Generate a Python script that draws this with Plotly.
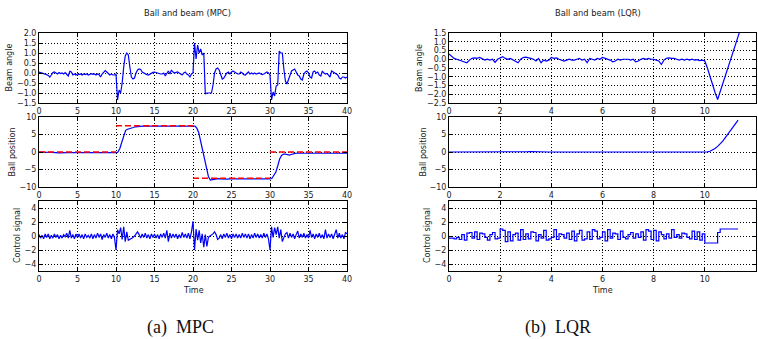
import numpy as np
import plotly.graph_objects as go

# ---------------- data: MPC (left) ----------------
mpc_angle_dt = 0.2
mpc_angle = [
    0.05, 0.03, 0.0, -0.03, -0.05,
    -0.08, -0.12, -0.2, -0.1, 0.02,
    0.05, 0.0, -0.05, 0.02, -0.03,
    0.0, -0.05, 0.02, -0.08, -0.15,
    0.08, 0.05, -0.1, -0.05, -0.1,
    -0.05, -0.08, -0.05, -0.1, -0.05,
    -0.08, -0.05, -0.1, -0.06, -0.03,
    -0.07, -0.05, -0.1, -0.05, -0.08,
    -0.2, -0.05, 0.05, 0.12, 0.05,
    -0.05, -0.1, -0.05, -0.1, -0.1,
    -0.05, -1.35, -0.85, -1.0, -0.5,
    0.3, 0.85, 1.0, 0.9, 0.3,
    -0.2, -0.3, -0.25, 0.0, 0.15,
    0.2, 0.18, 0.05, 0.0, -0.05,
    -0.08, -0.1, -0.05, 0.0, 0.03,
    0.05, 0.02, 0.0, -0.02, -0.05,
    -0.05, 0.0, -0.15, -0.05, 0.1,
    -0.05, 0.15, 0.05, 0.0, 0.03,
    0.05, 0.0, -0.05, -0.1, 0.0,
    0.05, -0.05, -0.1, -0.2, -0.05,
    0.0, 1.5, 0.7, 1.4, 1.0,
    1.2, 0.9, 1.0, -1.05, -1.0,
    -1.0, -1.0, -1.0, -0.6, 0.0,
    0.2, 0.25, 0.15, -0.1, -0.3,
    -0.25, -0.1, 0.0, 0.05, -0.05,
    0.05, 0.1, 0.05, -0.02, -0.05,
    -0.05, 0.05, 0.0, -0.08, -0.1,
    0.0, 0.05, -0.05, 0.0, -0.05,
    0.0, -0.05, -0.02, 0.0, -0.05,
    -0.08, -0.05, 0.02, 0.05, 0.0,
    -0.1, -1.35, -0.95, -1.15, -0.65,
    -0.6, 1.1, 1.0, 1.0, 0.2,
    -0.4, -0.55, -0.3, -0.1, 0.1,
    0.15, 0.2, 0.05, -0.1, -0.15,
    -0.3, -0.35, -0.05, 0.05, 0.1,
    0.0, -0.2, -0.25, 0.05, 0.1,
    0.0, 0.05, -0.1, -0.15, 0.1,
    0.0, -0.05, -0.02, -0.1, -0.2,
    0.1, 0.05, 0.0, -0.05, -0.1,
    -0.25, -0.3, -0.2, -0.2, -0.25,
    -0.2,
]

mpc_pos_dt = 0.25
mpc_pos = [
    0.0, 0.0, -0.05, -0.1,
    -0.1, -0.15, -0.2, -0.2,
    -0.2, -0.2, -0.25, -0.2,
    -0.2, -0.15, -0.2, -0.2,
    -0.2, -0.2, -0.25, -0.25,
    -0.2, -0.2, -0.2, -0.15,
    -0.2, -0.2, -0.2, -0.2,
    -0.15, -0.2, -0.2, -0.25,
    -0.25, -0.2, -0.2, -0.15,
    -0.2, -0.25, -0.25, -0.2,
    -0.2, 0.0, 1.0, 2.8,
    4.8, 6.2, 6.5, 6.6,
    6.7, 7.0, 7.2, 7.3,
    7.35, 7.35, 7.4, 7.4,
    7.4, 7.35, 7.4, 7.4,
    7.35, 7.4, 7.4, 7.35,
    7.4, 7.4, 7.35, 7.4,
    7.4, 7.35, 7.4, 7.4,
    7.35, 7.4, 7.4, 7.4,
    7.35, 7.4, 7.45, 7.45,
    7.45, 7.4, 6.8, 5.5,
    3.0, 0.5, -2.2, -4.8,
    -7.0, -8.0, -7.9, -7.6,
    -7.5, -7.6, -7.7, -7.75,
    -7.8, -7.8, -7.75, -7.7,
    -7.7, -7.75, -7.7, -7.7,
    -7.75, -7.7, -7.7, -7.75,
    -7.7, -7.7, -7.75, -7.7,
    -7.7, -7.75, -7.7, -7.7,
    -7.7, -7.7, -7.75, -7.7,
    -7.7, -7.5, -6.8, -5.8,
    -4.0, -2.0, -1.0, -0.6,
    -0.6, -0.8, -0.9, -0.7,
    -0.5, -0.4, -0.35, -0.35,
    -0.3, -0.35, -0.3, -0.3,
    -0.35, -0.3, -0.3, -0.25,
    -0.3, -0.3, -0.35, -0.3,
    -0.3, -0.25, -0.3, -0.3,
    -0.35, -0.3, -0.3, -0.25,
    -0.3, -0.35, -0.3, -0.3,
    -0.35,
]

ref_edges = [0, 10, 20, 30, 40]
ref_levels = [0, 7.5, -7.5, 0]

mpc_u_dt = 0.2
mpc_u = [
    0.2, -0.3, 0.1, -0.4, 0.3,
    -0.2, 0.3, -0.4, 0.1, -0.3,
    0.3, -0.2, 0.2, -0.4, 0.1,
    -0.3, 0.2, -0.1, 0.4, -0.3,
    0.8, -0.3, 0.2, -0.4, 0.3,
    -0.2, 0.3, -0.3, 0.2, -0.4,
    0.3, -0.2, 0.1, -0.3, 0.3,
    -0.4, 0.2, -0.3, 0.4, -0.2,
    0.3, -0.5, 0.2, -0.2, 0.4,
    -0.3, 0.2, -0.4, 0.3, -0.2,
    -2.0, 0.9, 0.3, 1.2, -0.5,
    1.3, -0.8, 0.6, -0.6, -0.5,
    -0.3, -0.2, 0.0, 0.3, 0.6,
    0.2, -0.3, 0.3, -0.2, 0.4,
    -0.3, 0.2, -0.4, 0.3, -0.2,
    0.3, -0.3, 0.2, -0.4, 0.3,
    -0.2, 0.4, -0.3, 0.8, -0.8,
    0.4, -0.3, 0.3, -0.2, 0.3,
    -0.4, 0.2, -0.3, 0.5, -0.2,
    0.3, -0.3, 0.4, -0.4, 0.6,
    2.1, -2.0, 1.0, -0.6, 0.8,
    -1.0, 0.3, -1.6, 0.2, -1.5,
    -0.2, 0.0, 0.1, 0.3, 0.6,
    0.2, -0.5, -0.3, 0.2, -0.4,
    0.3, -0.2, 0.4, -0.3, 0.2,
    -0.4, 0.3, -0.2, 0.3, -0.3,
    0.2, -0.3, 0.4, -0.2, 0.3,
    -0.3, 0.3, -0.4, 0.2, -0.3,
    0.4, -0.2, 0.3, -0.3, 0.2,
    -0.3, 0.4, -0.2, 0.3, -0.4,
    -2.0, 1.3, -0.2, 1.2, 0.2,
    1.3, -0.3, 0.9, -0.8, -0.2,
    0.3, 0.5, -0.3, 0.4, -0.2,
    0.3, -0.4, 0.2, 0.7, -0.3,
    0.3, -0.2, 0.4, -0.3, 0.2,
    -0.3, 0.8, -0.2, 0.3, -0.4,
    0.3, -0.2, 0.4, -0.3, 0.2,
    -0.4, 0.9, -0.3, 0.3, -0.2,
    0.3, -0.4, 0.2, 0.9, -0.3,
    0.4, -0.3, 0.2, -0.4, 0.5,
    0.3,
]

# ---------------- data: LQR (right) ----------------
lqr_dt = 0.1
lqr_angle = [
    0.3, 0.15, 0.05, 0.0, -0.05, -0.1, -0.15, -0.2, -0.05, 0.05,
    0.08, 0.05, 0.1, 0.0, -0.05, 0.0, -0.05, 0.0, -0.18, 0.0,
    0.1, 0.15, 0.05, 0.0, 0.05, -0.05, -0.15, -0.2, 0.0, 0.1,
    0.12, 0.1, 0.05, 0.0, -0.1, 0.05, -0.2, -0.05, -0.1, -0.05,
    0.1, 0.05, 0.08, 0.0, -0.05, -0.1, -0.05, 0.0, -0.05, -0.05,
    0.0, 0.05, -0.05, 0.0, -0.2, 0.05, 0.0, -0.05, 0.05, 0.0,
    0.1, 0.05, 0.0, -0.05, -0.15, -0.1, 0.0, -0.05, 0.0, 0.02,
    0.0, -0.05, 0.0, -0.15, -0.1, 0.0, 0.05, 0.0, 0.05, 0.0,
    0.0, -0.05, -0.1, -0.3, -0.05, 0.05, 0.08, 0.05, 0.05, 0.0,
    -0.05, 0.0, -0.05, 0.0, -0.05, 0.0, -0.05, -0.02, -0.08, -0.05,
    -0.1, -0.5, -1.0, -1.45, -1.9, -2.3, -1.85, -1.4, -0.95, -0.5,
    -0.05, 0.4, 0.85, 1.3, 1.75,
]

lqr_pos = [
    0.0, 0.0, -0.05, -0.05, -0.1, -0.1, -0.1, -0.1, -0.05, -0.05,
    0.0, 0.0, 0.0, 0.05, 0.0, 0.0, -0.05, 0.0, 0.0, 0.05,
    0.0, 0.0, 0.0, -0.05, -0.05, -0.1, -0.05, 0.0, 0.0, 0.05,
    0.1, 0.1, 0.15, 0.1, 0.1, 0.05, 0.0, 0.0, -0.05, 0.0,
    0.0, 0.05, 0.05, 0.0, 0.0, 0.0, -0.05, -0.05, 0.0, 0.0,
    0.0, 0.0, 0.0, -0.05, -0.05, 0.0, 0.0, 0.0, 0.05, 0.05,
    0.1, 0.1, 0.05, 0.0, 0.0, -0.05, -0.1, -0.1, -0.05, 0.0,
    0.0, 0.0, -0.05, -0.05, -0.1, -0.1, -0.05, 0.0, 0.0, 0.0,
    0.0, -0.05, -0.1, -0.1, -0.1, -0.05, 0.0, 0.0, 0.0, 0.0,
    0.0, 0.0, 0.0, -0.05, 0.0, 0.0, 0.0, -0.05, -0.05, 0.0,
    0.0, 0.05, 0.2, 0.5, 1.0, 1.6, 2.3, 3.1, 4.1, 5.1,
    6.2, 7.3, 8.3, 9.1,
]

lqr_u = [
    -0.3, -0.3, -0.4, -0.2, -0.5, 0.2, -0.6, 0.4, 0.5, -0.3,
    0.6, -0.5, 0.4, 0.3, -0.2, -0.6, 0.2, 0.5, -0.4, -0.3,
    1.0, 0.8, -0.8, 0.6, -0.7, 0.2, 0.4, -0.6, 0.9, -0.5,
    0.3, -0.4, 0.6, 0.5, -0.7, 0.2, -0.3, 0.8, -0.6, -0.4,
    -0.2, 0.9, -0.5, 0.3, 0.2, -0.3, 0.4, -0.5, 0.7, -0.7,
    0.3, 0.8, -0.6, -0.4, 0.6, -0.5, 0.9, 0.7, -0.4, -0.2,
    0.6, -0.7, 0.9, -0.3, 0.4, 0.3, -0.5, 0.7, -0.2, -0.4,
    0.2, 0.5, -0.3, 0.3, -0.2, 0.6, -0.6, 0.9, 0.7, -0.5,
    0.8, -0.7, 0.6, 0.2, -0.4, 0.3, -0.3, 0.9, -0.2, 0.2,
    -0.3, 0.4, 0.3, -0.2, -0.4, 0.7, -0.5, 0.6, -0.6, 0.3,
    -1.0, -1.0, -1.0, -1.0, -1.0, 0.5, 1.0, 1.0, 1.0, 1.0,
    1.0, 1.0, 1.0, 1.0,
]

titles = ["Ball and beam (MPC)", "Ball and beam (LQR)"]
captions = ["(a)  MPC", "(b)  LQR"]
row_labels = ["Beam angle", "Ball position", "Control signal"]
x_label = "Time"

# ---------------- layout geometry (pixels) ----------------
W, H = 758, 339
col_px = [(39, 347), (449, 756)]
row_px = [(33, 103), (117, 187), (201, 271)]

def fx(px):
    return px / W

def fy(py):
    return 1 - py / H

def tgrid(n, dt):
    return np.round(np.arange(n) * dt, 4)

BLUE = "#0000ff"
line_w = 1.2

fig = go.Figure()

def add(trace, idx):
    trace.xaxis = "x" if idx == 1 else f"x{idx}"
    trace.yaxis = "y" if idx == 1 else f"y{idx}"
    fig.add_trace(trace)

# MPC traces
add(go.Scatter(x=tgrid(len(mpc_angle), mpc_angle_dt), y=mpc_angle, mode="lines",
               line=dict(color=BLUE, width=line_w)), 1)
add(go.Scatter(x=tgrid(len(mpc_pos), mpc_pos_dt), y=mpc_pos, mode="lines",
               line=dict(color=BLUE, width=line_w)), 2)
rx, ry = [], []
for i, lv in enumerate(ref_levels):
    rx += [ref_edges[i], ref_edges[i + 1], None]
    ry += [lv, lv, None]
add(go.Scatter(x=rx, y=ry, mode="lines",
               line=dict(color="#ff0000", width=1.5, dash="6px,3px")), 2)
add(go.Scatter(x=tgrid(len(mpc_u), mpc_u_dt), y=mpc_u, mode="lines",
               line=dict(color=BLUE, width=line_w)), 3)

# LQR traces
add(go.Scatter(x=tgrid(len(lqr_angle), lqr_dt), y=lqr_angle, mode="lines",
               line=dict(color=BLUE, width=line_w)), 4)
add(go.Scatter(x=tgrid(len(lqr_pos), lqr_dt), y=lqr_pos, mode="lines",
               line=dict(color=BLUE, width=line_w)), 5)
add(go.Scatter(x=tgrid(len(lqr_u), lqr_dt), y=lqr_u, mode="lines",
               line=dict(color=BLUE, width=line_w, shape="hv")), 6)

FONT = "DejaVu Sans"
TXT = "#1a1a1a"

x_specs = [
    dict(range=[0, 40], dtick=5),
    dict(range=[0, 12], dtick=2),
]
y_specs = [
    [dict(range=[-1.5, 2.0], dtick=0.5, tickformat=".1f"),
     dict(range=[-10, 10], dtick=5, tickformat="d"),
     dict(range=[-5, 5], tickvals=[-4, -2, 0, 2, 4], tickformat="d")],
    [dict(range=[-2.5, 1.5], dtick=0.5, tickformat=".1f"),
     dict(range=[-10, 10], dtick=5, tickformat="d"),
     dict(range=[-5, 5], tickvals=[-4, -2, 0, 2, 4], tickformat="d")],
]

common = dict(
    showline=True, linecolor="black", linewidth=1, mirror="ticks",
    ticks="inside", ticklen=4, tickcolor="black", tickwidth=1,
    showgrid=True, gridcolor="#000000", gridwidth=0.7, griddash="1px,2px",
    zeroline=False, tickfont=dict(family=FONT, size=8, color=TXT),
    fixedrange=True, automargin=False,
)

layout = {}
for c in range(2):
    for r in range(3):
        idx = c * 3 + r + 1
        xn = "xaxis" if idx == 1 else f"xaxis{idx}"
        yn = "yaxis" if idx == 1 else f"yaxis{idx}"
        ya = "y" if idx == 1 else f"y{idx}"
        xa = "x" if idx == 1 else f"x{idx}"
        layout[xn] = dict(common, domain=[fx(col_px[c][0]), fx(col_px[c][1])],
                          anchor=ya, **x_specs[c])
        layout[yn] = dict(common, domain=[fy(row_px[r][1]), fy(row_px[r][0])],
                          anchor=xa, **y_specs[c][r])

annotations = []
title_cx = [187, 598]
caption_cx = [180, 558]
time_cx = [193, 602]
label_cx = [[9.5, 11.5, 17.0], [420, 422.5, 427]]
for c in range(2):
    annotations.append(dict(text=titles[c], x=fx(title_cx[c]), y=fy(13.5),
                            xref="paper", yref="paper", showarrow=False,
                            xanchor="center", yanchor="middle",
                            font=dict(family=FONT, size=8.3, color=TXT)))
    annotations.append(dict(text=captions[c], x=fx(caption_cx[c]), y=fy(327),
                            xref="paper", yref="paper", showarrow=False,
                            xanchor="center", yanchor="middle",
                            font=dict(family="Liberation Serif", size=18, color="#111")))
    annotations.append(dict(text=x_label, x=fx(time_cx[c]),
                            y=fy(290), xref="paper", yref="paper", showarrow=False,
                            xanchor="center", yanchor="middle",
                            font=dict(family=FONT, size=8, color=TXT)))
    for r in range(3):
        annotations.append(dict(text=row_labels[r], x=fx(label_cx[c][r]),
                                y=fy((row_px[r][0] + row_px[r][1]) / 2),
                                xref="paper", yref="paper", showarrow=False,
                                textangle=-90, xanchor="center", yanchor="middle",
                                font=dict(family=FONT, size=8, color=TXT)))

fig.update_layout(
    width=W, height=H, margin=dict(l=0, r=0, t=0, b=0),
    paper_bgcolor="white", plot_bgcolor="white",
    showlegend=False, annotations=annotations, **layout,
)

fig.write_html("out.html", config={"displayModeBar": False})
